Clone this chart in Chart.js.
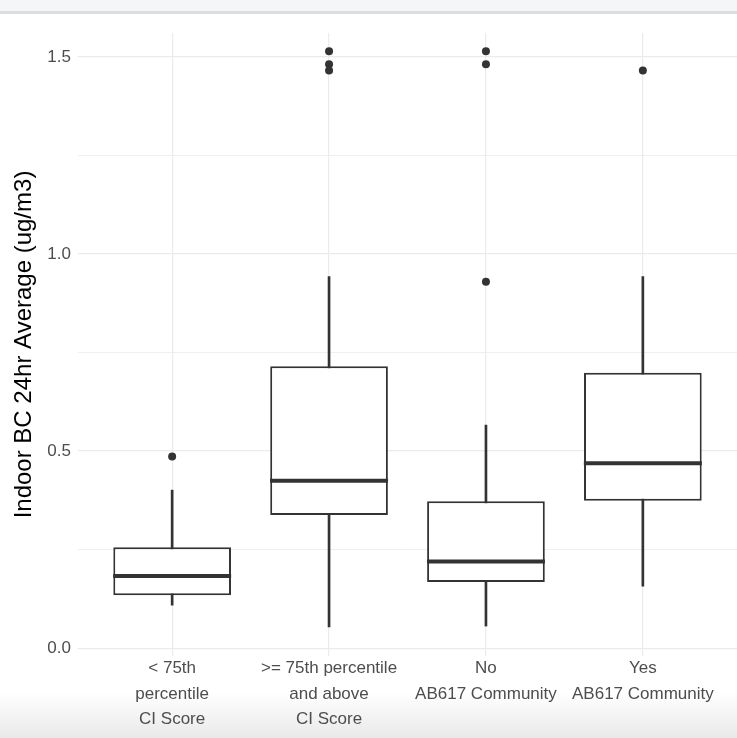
<!DOCTYPE html>
<html lang="en">
<head>
<meta charset="UTF-8">
<title>Indoor BC 24hr Average</title>
<style>
  html, body { margin: 0; padding: 0; }
  body {
    width: 737px; height: 738px; position: relative; overflow: hidden;
    background: linear-gradient(to bottom,
      #f5f6f8 0px, #f5f6f8 11px, #dcdde0 11px, #dcdde0 14px,
      #ffffff 14px, #ffffff 692px, #e9e9e9 738px);
  }
  #chart { position: absolute; left: 0; top: 0; }
</style>
</head>
<body>
<canvas id="chart" width="737" height="738"></canvas>
<script src="https://cdn.jsdelivr.net/npm/chart.js@4.4.0/dist/chart.umd.min.js"></script>
<script>
// groups on the x axis (one line per array entry)
var categories = [
    ['< 75th', 'percentile', 'CI Score'],
    ['>= 75th percentile', 'and above', 'CI Score'],
    ['No', 'AB617 Community'],
    ['Yes', 'AB617 Community']
];
var xPositions = [1, 2, 3, 4];

// box statistics (ug/m3)
var whiskerLow  = [0.109, 0.054, 0.056, 0.157];
var q1          = [0.134, 0.338, 0.168, 0.374];
var medians     = [0.183, 0.425, 0.220, 0.469];
var q3          = [0.256, 0.715, 0.373, 0.699];
var whiskerHigh = [0.401, 0.943, 0.566, 0.943];
var outliers    = [[0.486], [1.515, 1.482, 1.466], [0.930, 1.515, 1.482], [1.466]];

var yTickValues = [0, 0.25, 0.5, 0.75, 1.0, 1.25, 1.5];
var yTickLabels = ['0.0', '', '0.5', '', '1.0', '', '1.5'];

var ink = '#333333';
var font = 'Liberation Sans, Arial, Helvetica, sans-serif';

var outlierPoints = [];
for (var i = 0; i < outliers.length; i++) {
    for (var j = 0; j < outliers[i].length; j++) {
        outlierPoints.push({x: xPositions[i], y: outliers[i][j]});
    }
}

new Chart(document.getElementById('chart'), {
    type: 'bar',
    data: {
        datasets: [
            {
                type: 'scatter',
                data: outlierPoints,
                pointRadius: 4,
                pointBackgroundColor: ink,
                pointBorderWidth: 0
            },
            {
                type: 'scatter',
                data: xPositions.map(function (x, i) { return {x: x, y: medians[i]}; }),
                pointStyle: 'line',
                pointRadius: 59,
                pointBorderColor: ink,
                pointBorderWidth: 4
            },
            {
                type: 'bar',
                data: xPositions.map(function (x, i) { return {x: x, y: [q1[i], q3[i]]}; }),
                backgroundColor: '#ffffff',
                borderColor: ink,
                borderWidth: 2,
                borderSkipped: false,
                grouped: false,
                categoryPercentage: 1,
                barPercentage: 0.75
            },
            {
                type: 'bar',
                data: xPositions.map(function (x, i) { return {x: x, y: [whiskerLow[i], whiskerHigh[i]]}; }),
                backgroundColor: ink,
                borderWidth: 0,
                grouped: false,
                barThickness: 2
            }
        ]
    },
    options: {
        responsive: false,
        animation: false,
        devicePixelRatio: 1,
        layout: {autoPadding: false, padding: {top: 33, right: 0, left: 0, bottom: 0}},
        plugins: {legend: {display: false}, tooltip: {enabled: false}},
        scales: {
            x: {
                type: 'linear',
                min: 0.4,
                max: 4.6,
                offset: false,
                afterBuildTicks: function (scale) {
                    scale.ticks = xPositions.map(function (v) { return {value: v}; });
                },
                afterFit: function (scale) {
                    scale.height = 82;
                    scale.paddingLeft = 0;
                    scale.paddingRight = 0;
                },
                border: {display: false},
                grid: {offset: false, color: '#ebebeb', lineWidth: 1.2, drawTicks: false},
                ticks: {
                    padding: 0,
                    color: '#4d4d4d',
                    font: {family: font, size: 17, lineHeight: 1.5},
                    maxRotation: 0,
                    autoSkip: false,
                    callback: function (value, index) { return categories[index]; }
                }
            },
            y: {
                min: -0.02,
                max: 1.561,
                afterBuildTicks: function (scale) {
                    scale.ticks = yTickValues.map(function (v) { return {value: v}; });
                },
                afterFit: function (scale) {
                    scale.width = 78;
                    scale.paddingTop = 0;
                    scale.paddingBottom = 0;
                },
                border: {display: false},
                grid: {
                    color: '#ebebeb',
                    lineWidth: function (ctx) { return yTickLabels[ctx.index] ? 1.2 : 0.8; },
                    drawTicks: false
                },
                ticks: {
                    padding: 7,
                    color: '#4d4d4d',
                    font: {family: font, size: 17},
                    callback: function (value, index) { return yTickLabels[index]; }
                },
                title: {
                    display: true,
                    text: 'Indoor BC 24hr Average (ug/m3)',
                    color: '#000000',
                    font: {family: font, size: 24},
                    padding: {top: 10, bottom: 0}
                }
            }
        }
    }
});
</script>
</body>
</html>
